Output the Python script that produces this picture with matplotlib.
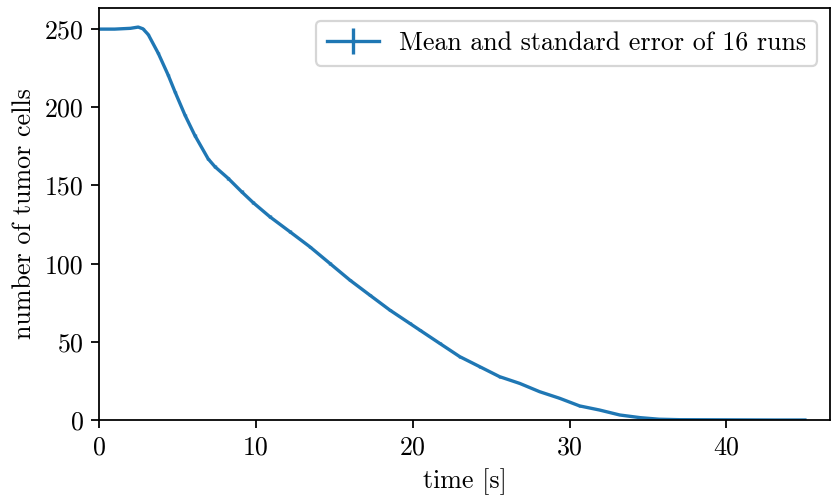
import numpy as np
import matplotlib
matplotlib.use("Agg")
import matplotlib.pyplot as plt

plt.rcParams['font.family'] = 'serif'
plt.rcParams['font.serif'] = ['cmr10']
plt.rcParams['mathtext.fontset'] = 'cm'
plt.rcParams['axes.unicode_minus'] = False
plt.rcParams['font.size'] = 11.7

# mean tumor cell count over time (16 runs)
time = [0.0, 1.0, 2.0, 2.5, 2.8, 3.14, 3.78, 4.41, 4.84, 5.48, 6.11, 6.96,
        7.39, 8.24, 9.09, 9.83, 10.89, 12.17, 13.44, 14.71, 15.99, 17.26,
        18.54, 19.81, 20.45, 21.72, 23.0, 24.27, 25.54, 26.82, 28.09, 29.36,
        30.64, 31.9, 33.2, 34.5, 35.7, 37.0, 40.0, 43.0, 45.0]
mean_cells = [250.0, 250.0, 250.5, 251.3, 250.2, 246.5, 234.5, 220.6, 210.0,
              195.0, 182.0, 167.0, 162.0, 154.5, 146.0, 139.0, 130.0, 120.4,
              110.8, 100.2, 89.5, 79.9, 70.3, 61.8, 57.5, 49.0, 40.5, 34.1,
              27.7, 23.4, 18.1, 13.9, 9.0, 6.4, 3.2, 1.5, 0.5, 0.2, 0.1, 0.0,
              0.0]
std_err = [0.0, 0.0, 0.1, 0.2, 0.3, 0.4, 0.6, 0.7, 0.7, 0.8, 0.8, 0.8, 0.8,
           0.8, 0.8, 0.8, 0.8, 0.8, 0.8, 0.8, 0.8, 0.8, 0.8, 0.7, 0.7,
           0.7, 0.7, 0.6, 0.6, 0.5, 0.5, 0.4, 0.4, 0.3, 0.2, 0.1, 0.1,
           0.0, 0.0, 0.0, 0.0]

dpi = 160
fig = plt.figure(figsize=(831 / dpi, 500 / dpi), dpi=dpi)
ax = fig.add_axes([99/831, 80/500, 731/831, 412/500])

ax.errorbar(time, mean_cells, yerr=std_err, color='C0', lw=1.5,
            label='Mean and standard error of 16 runs')

ax.set_xlim(0, 46.6)
ax.set_ylim(0, 263.5)
ax.set_xticks([0, 10, 20, 30, 40])
ax.set_yticks([0, 50, 100, 150, 200, 250])
ax.set_xlabel('time [s]')
ax.set_ylabel('number of tumor cells')
ax.legend(loc='upper right')

fig.savefig('out.png', dpi=dpi)
